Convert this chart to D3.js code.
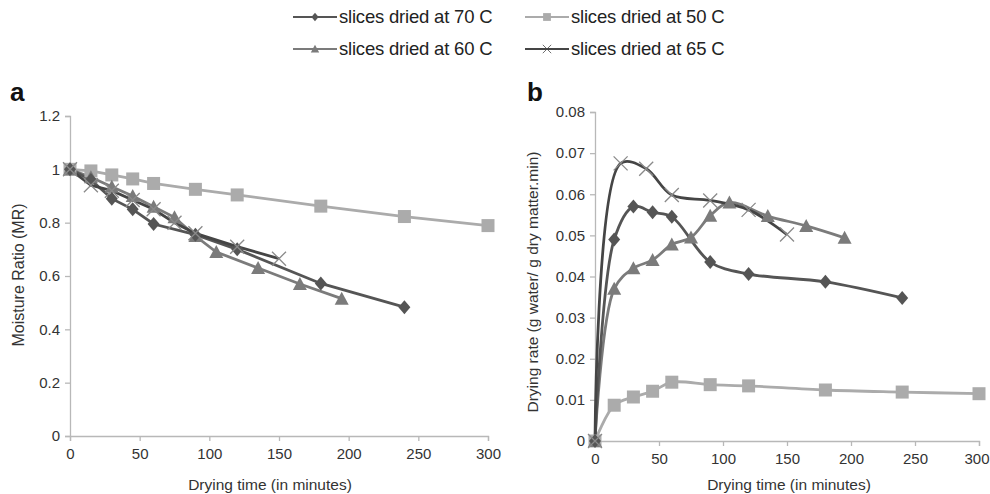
<!DOCTYPE html>
<html>
<head>
<meta charset="utf-8">
<script src="https://cdn.jsdelivr.net/npm/d3@7"></script>
<style>
  body { margin: 0; background: #fff; }
  text { font-family: "Liberation Sans", Arial, sans-serif; }
</style>
</head>
<body>
<svg id="chart" width="990" height="494"></svg>
<script>
// series names
var seriesNames = ["slices dried at 70 C", "slices dried at 50 C", "slices dried at 60 C", "slices dried at 65 C"];

// panel a: moisture ratio
var mr70_t = [0, 15, 30, 45, 60, 90, 120, 180, 240];
var mr70_v = [1, 0.96, 0.89, 0.85, 0.795, 0.755, 0.70, 0.572, 0.483];
var mr50_t = [0, 15, 30, 45, 60, 90, 120, 180, 240, 300];
var mr50_v = [1, 0.994, 0.979, 0.964, 0.947, 0.925, 0.904, 0.862, 0.823, 0.789];
var mr60_t = [0, 15, 30, 45, 60, 75, 90, 105, 135, 165, 195];
var mr60_v = [1, 0.97, 0.935, 0.90, 0.86, 0.82, 0.75, 0.69, 0.63, 0.57, 0.515];
var mr65_t = [0, 15, 30, 45, 60, 75, 90, 120, 150];
var mr65_v = [1, 0.94, 0.92, 0.885, 0.85, 0.80, 0.76, 0.71, 0.665];

// panel b: drying rate
var dr70_t = [0, 15, 30, 45, 60, 90, 120, 180, 240];
var dr70_v = [0, 0.049, 0.057, 0.0556, 0.0545, 0.0435, 0.0406, 0.0387, 0.0348];
var dr50_t = [0, 15, 30, 45, 60, 90, 120, 180, 240, 300];
var dr50_v = [0, 0.0087, 0.0107, 0.0121, 0.0143, 0.0137, 0.0134, 0.0124, 0.0119, 0.0115];
var dr60_t = [0, 15, 30, 45, 60, 75, 90, 105, 135, 165, 195];
var dr60_v = [0, 0.037, 0.042, 0.044, 0.0478, 0.0495, 0.0548, 0.058, 0.0547, 0.0523, 0.0494];
var dr65_t = [0, 20, 40, 60, 90, 120, 150];
var dr65_v = [0, 0.0675, 0.0662, 0.0598, 0.0585, 0.0562, 0.0502];

var ticksA_y = [0, 0.2, 0.4, 0.6, 0.8, 1, 1.2];
var ticksB_y = [0, 0.01, 0.02, 0.03, 0.04, 0.05, 0.06, 0.07, 0.08];
var ticksX = [0, 50, 100, 150, 200, 250, 300];

var styles = [
  {line: "#555555", mark: "#555555", shape: "diamond", width: 2.8},
  {line: "#ababab", mark: "#ababab", shape: "square", width: 2.8},
  {line: "#7b7b7b", mark: "#7b7b7b", shape: "triangle", width: 2.8},
  {line: "#454545", mark: "#8a8a8a", shape: "cross", width: 2.8}
];

function zip(t, v) { return t.map((d, i) => ({t: d, v: v[i]})); }

var svg = d3.select("#chart");

function drawMarker(g, shape, color) {
  if (shape === "diamond") {
    g.append("path").attr("d", "M0,-7L6,0L0,7L-6,0Z").attr("fill", color);
  } else if (shape === "square") {
    g.append("rect").attr("x", -6.5).attr("y", -6.5).attr("width", 13).attr("height", 13).attr("fill", color);
  } else if (shape === "triangle") {
    g.append("path").attr("d", "M0,-7L7,6L-7,6Z").attr("fill", color);
  } else {
    g.append("path").attr("d", "M-7,-7L7,7M-7,7L7,-7").attr("stroke", color).attr("stroke-width", 1.3).attr("fill", "none");
  }
}

function panel(opts) {
  var x = d3.scaleLinear().domain([0, 300]).range([opts.x0, opts.x1]);
  var y = d3.scaleLinear().domain([0, opts.ymax]).range([opts.y0, opts.y1]);
  var g = svg.append("g");

  var xAxis = g.append("g").attr("transform", "translate(0," + opts.y0 + ")")
    .call(d3.axisBottom(x).tickValues(ticksX).tickSize(5).tickPadding(7));
  var yAxis = g.append("g").attr("transform", "translate(" + opts.x0 + ",0)")
    .call(d3.axisLeft(y).tickValues(opts.yticks).tickSize(5).tickPadding(5).tickFormat(d3.format("~g")));
  [xAxis, yAxis].forEach(function(ax) {
    ax.select(".domain").attr("stroke", "#b8b8b8").attr("stroke-width", 1.3);
    ax.selectAll(".tick line").attr("stroke", "#b8b8b8").attr("stroke-width", 1.3);
    ax.selectAll(".tick text").attr("fill", "#333").style("font-size", "15px");
  });
  // keep the last x label inside the page edge
  if (opts.x1 > 960) {
    xAxis.selectAll(".tick text").filter(d => d === 300).attr("text-anchor", "end").attr("dx", "10");
  }

  var line = d3.line().x(d => x(d.t)).y(d => y(d.v)).curve(opts.curve);
  opts.series.forEach(function(s) {
    var st = styles[s.k];
    g.append("path").datum(s.data).attr("fill", "none").attr("stroke", st.line)
      .attr("stroke-width", st.width).attr("d", line);
  });
  opts.series.forEach(function(s) {
    var st = styles[s.k];
    g.selectAll(null).data(s.data).enter().append("g")
      .attr("transform", d => "translate(" + x(d.t) + "," + y(d.v) + ")")
      .each(function() { drawMarker(d3.select(this), st.shape, st.mark); });
  });

  g.append("text").attr("x", opts.labelX).attr("y", 101).text(opts.letter)
    .style("font-size", "26px").style("font-weight", "bold").attr("fill", "#111");
  g.append("text").attr("x", opts.xlabelX).attr("y", opts.xlabelY).attr("text-anchor", "middle")
    .style("font-size", "15.5px").attr("fill", "#333").text("Drying time (in minutes)");
  g.append("text").attr("transform", "translate(" + opts.ylabelX + "," + opts.ylabelY + ") rotate(-90)")
    .attr("text-anchor", "middle").style("font-size", opts.ylabelSize).attr("fill", "#333").text(opts.ylabel);
}

panel({
  x0: 70, x1: 488, y0: 436, y1: 116, ymax: 1.2, yticks: ticksA_y,
  curve: d3.curveLinear, letter: "a", labelX: 10, xlabelX: 270, xlabelY: 490, ylabelX: 24, ylabelY: 275,
  ylabelSize: "16px", ylabel: "Moisture Ratio (MR)",
  series: [
    {k: 1, data: zip(mr50_t, mr50_v)},
    {k: 2, data: zip(mr60_t, mr60_v)},
    {k: 0, data: zip(mr70_t, mr70_v)},
    {k: 3, data: zip(mr65_t, mr65_v)}
  ]
});

panel({
  x0: 595, x1: 979, y0: 441, y1: 112, ymax: 0.08, yticks: ticksB_y,
  curve: d3.curveCatmullRom.alpha(0.5), letter: "b", labelX: 527, xlabelX: 789, xlabelY: 490, ylabelX: 538, ylabelY: 282,
  ylabelSize: "15.5px", ylabel: "Drying rate (g water/ g dry matter.min)",
  series: [
    {k: 1, data: zip(dr50_t, dr50_v)},
    {k: 2, data: zip(dr60_t, dr60_v)},
    {k: 0, data: zip(dr70_t, dr70_v)},
    {k: 3, data: zip(dr65_t, dr65_v)}
  ]
});

// legend
var legendPos = [[293, 17], [525, 17], [293, 49], [525, 49]];
seriesNames.forEach(function(name, i) {
  var st = styles[i];
  var p = legendPos[i];
  var lg = svg.append("g").attr("transform", "translate(" + p[0] + "," + p[1] + ")");
  lg.append("line").attr("x1", 0).attr("x2", 44).attr("stroke", st.line).attr("stroke-width", 2);
  var m = lg.append("g").attr("transform", "translate(22,0) scale(0.6)");
  drawMarker(m, st.shape, st.shape === "cross" ? st.line : st.mark);
  lg.append("text").attr("x", 46).attr("y", 6).style("font-size", "18.5px").attr("fill", "#222")
    .style("letter-spacing", "-0.2px").text(name);
});
</script>
</body>
</html>
